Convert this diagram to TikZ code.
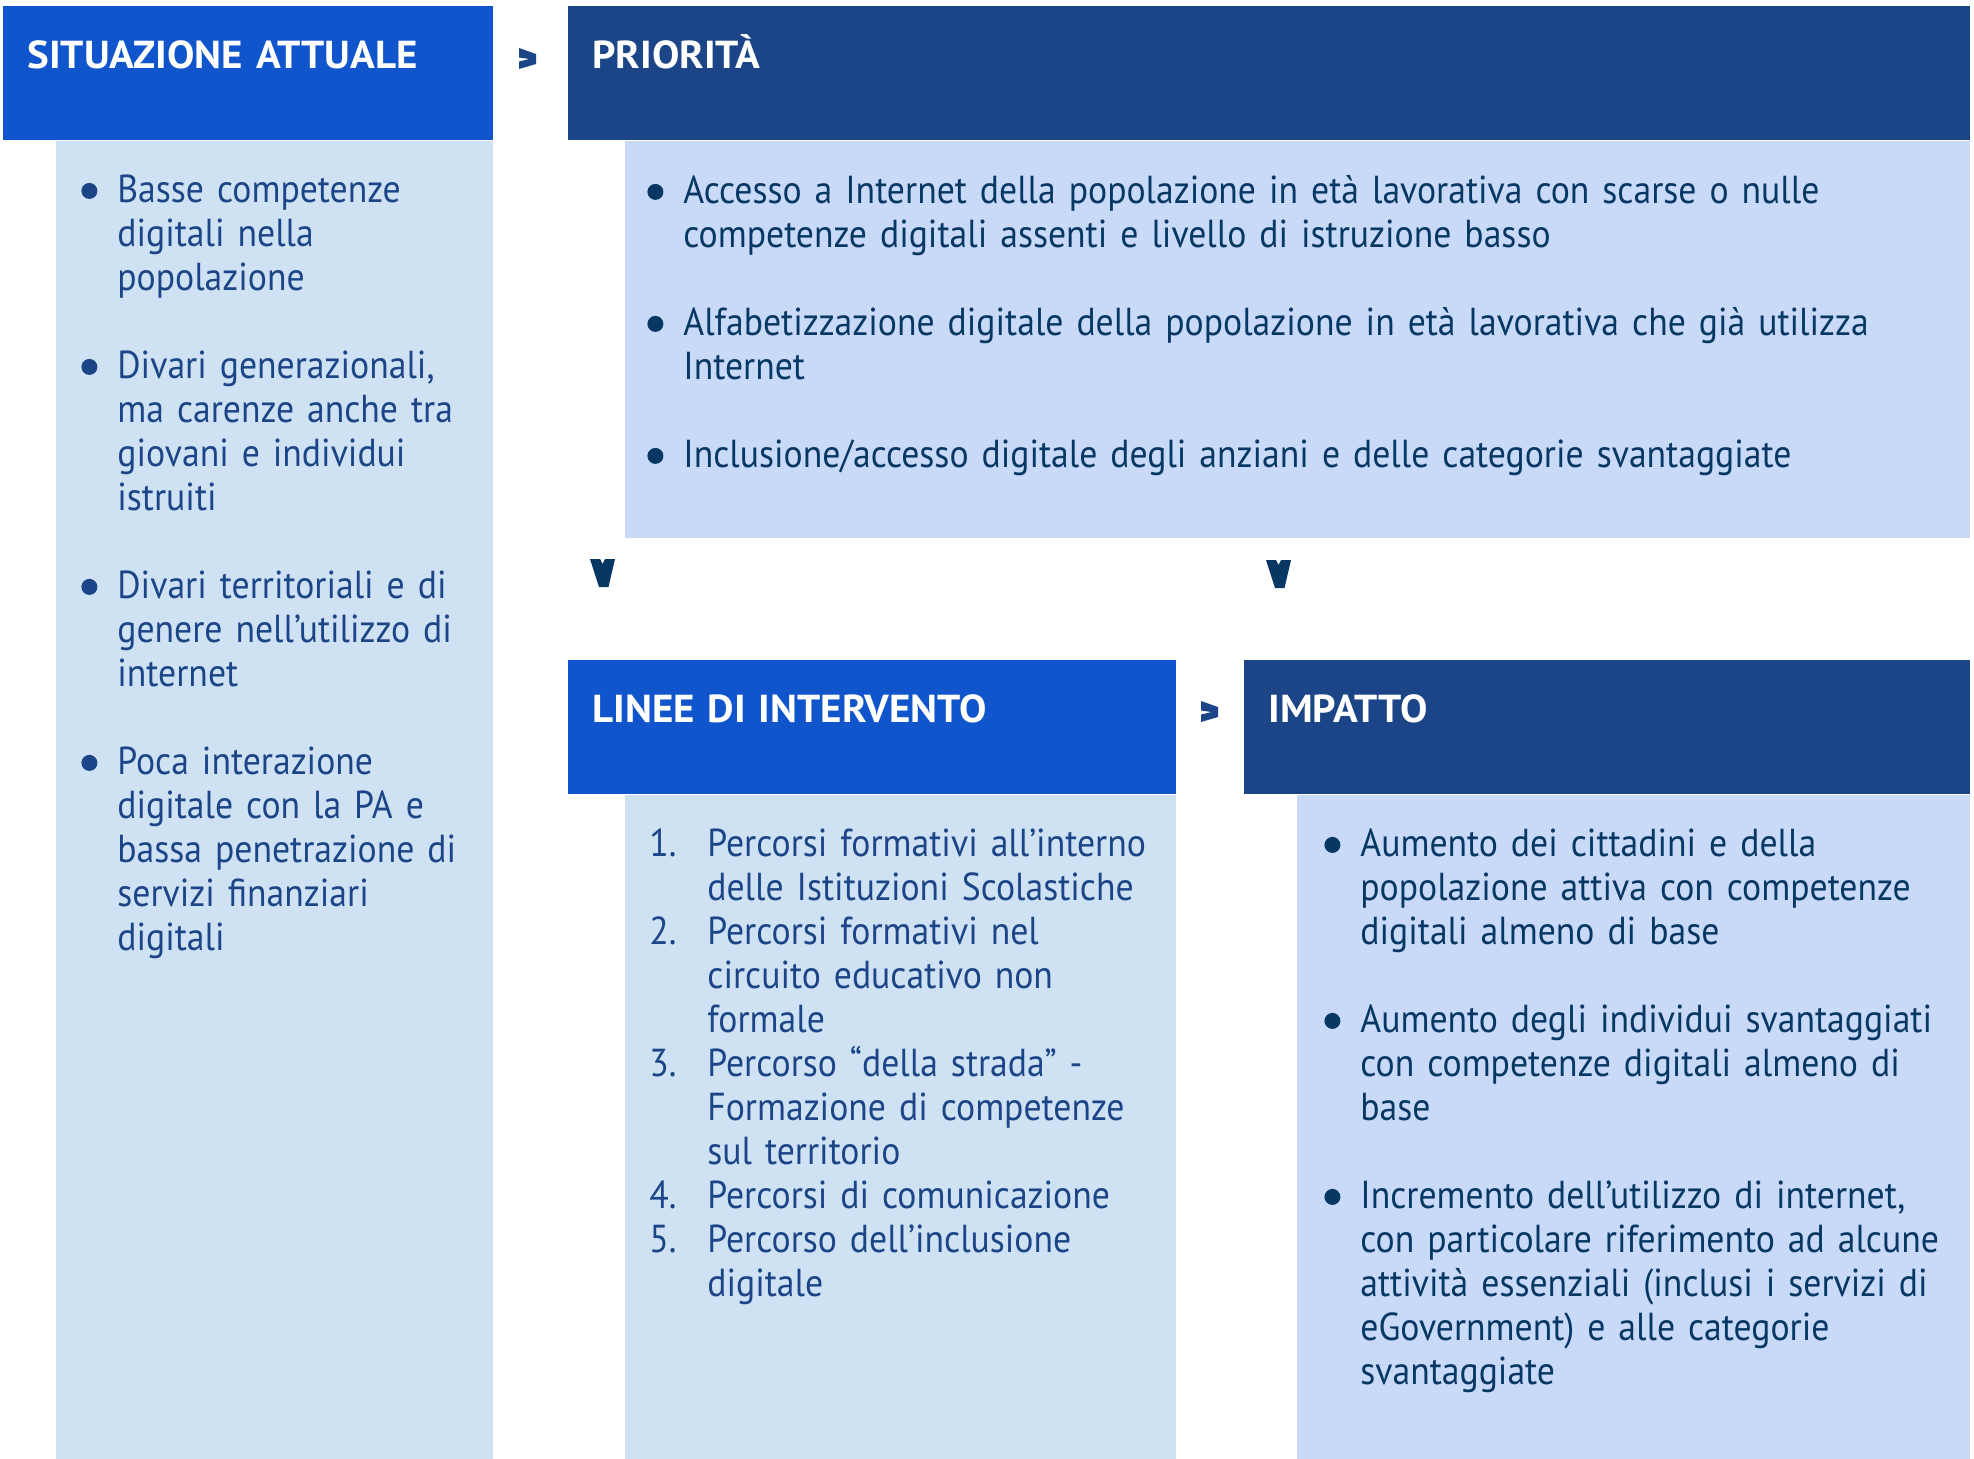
\documentclass[tikz,border=0pt]{standalone}
\usepackage{fontspec}
\setmainfont[FakeStretch=0.915]{PT Sans}
\newfontfamily\titolofont[FakeStretch=1.05]{PT Sans}
\usepackage{xcolor}
\usepackage{graphicx}

\definecolor{bluvivo}{HTML}{1155CC}
\definecolor{bluscuro}{HTML}{1C4587}
\definecolor{navy}{HTML}{073763}
\definecolor{azzurro}{HTML}{CFE2F3}
\definecolor{celeste}{HTML}{C9DAF8}

\setlength{\parskip}{0pt}
\newlength{\rientro}
\setlength{\rientro}{18pt}
% bullet and list items
\newcommand{\pallino}{\tikz[baseline=-5.75pt]\fill (0,0) circle (4pt);}
\newcommand{\voce}[1]{\par\hangindent=\rientro\hangafter=1\noindent\makebox[\rientro][l]{\pallino}#1\par}
\newcommand{\numero}[2]{\par\hangindent=29pt\hangafter=1\noindent\makebox[29pt][l]{#1}#2\par}
\newcommand{\vuota}{\vskip22pt}

\tikzset{
frecciadx/.pic={\fill[bluscuro] (0,0) -- (17,6) -- (17,16) -- (0,21) -- (0,13.5) -- (10.5,11) -- (0,9.5) -- cycle;},
frecciagiu/.pic={\fill[navy] (0,0) -- (10,0) -- (12.5,5) -- (15,0) -- (25,0) -- (18.5,28) -- (9,28) -- cycle;}
}

\begin{document}
\begin{tikzpicture}
[x=0.5pt, y=-0.5pt,
% The titolo style is used for the coloured headers
titolo/.style={anchor=north west, text=white, inner xsep=12pt, inner ysep=0pt, text height=31pt, text depth=36pt, font=\fontsize{19.5}{22}\titolofont\bfseries},
% The corpo style is used for the light boxes below the headers
corpo/.style={anchor=north east, inner sep=0pt},
% The testo style is used for the lists
testo/.style={anchor=north west, inner sep=0pt, font=\fontsize{19.5}{22}\selectfont}
]
\useasboundingbox (0,0) rectangle (1974,1458);

% Draw headers
\node[titolo, fill=bluvivo, text width=221pt] (sit-head) at (3,6) {SITUAZIONE ATTUALE};
\node[titolo, fill=bluscuro, text width=677pt] (pri-head) at (568,6) {PRIORITÀ};
\node[titolo, fill=bluvivo, text width=280pt] (lin-head) at (568,660) {LINEE DI INTERVENTO};
\node[titolo, fill=bluscuro, text width=339pt] (imp-head) at (1244,660) {IMPATTO};

% Draw boxes
\node[corpo, fill=azzurro, minimum width=218.5pt, minimum height=659pt] (sit-body) at (sit-head.south east) {};
\node[corpo, fill=celeste, minimum width=672.5pt, minimum height=198.5pt] (pri-body) at (pri-head.south east) {};
\node[corpo, fill=azzurro, minimum width=275.5pt, minimum height=332pt] (lin-body) at (lin-head.south east) {};
\node[corpo, fill=celeste, minimum width=336.5pt, minimum height=332pt] (imp-body) at (imp-head.south east) {};

% Draw lists
\node[testo, text=bluscuro, text width=300pt] (sit-text) at (81,158) {%
\voce{Basse competenze\newline digitali nella\newline popolazione}\vuota
\voce{Divari generazionali,\newline ma carenze anche tra\newline giovani e individui\newline istruiti}\vuota
\voce{Divari territoriali e di\newline genere nell’utilizzo di\newline internet}\vuota
\voce{Poca interazione\newline digitale con la PA e\newline bassa penetrazione di\newline servizi finanziari\newline digitali}};

\node[testo, text=navy, text width=700pt] (pri-text) at (647,159) {%
\voce{Accesso a Internet della popolazione in età lavorativa con scarse o nulle\newline competenze digitali assenti e livello di istruzione basso}\vuota
\voce{Alfabetizzazione digitale della popolazione in età lavorativa che già utilizza\newline Internet}\vuota
\voce{Inclusione/accesso digitale degli anziani e delle categorie svantaggiate}};

\node[testo, text=bluscuro, text width=400pt] (lin-text) at (649,812) {%
\numero{1.}{Percorsi formativi all’interno\newline delle Istituzioni Scolastiche}
\numero{2.}{Percorsi formativi nel\newline circuito educativo non\newline formale}
\numero{3.}{Percorso “della strada” -\newline Formazione di competenze\newline sul territorio}
\numero{4.}{Percorsi di comunicazione}
\numero{5.}{Percorso dell’inclusione\newline digitale}};

\node[testo, text=navy, text width=400pt] (imp-text) at (1324,812) {%
\voce{Aumento dei cittadini e della\newline popolazione attiva con competenze\newline digitali almeno di base}\vuota
\voce{Aumento degli individui svantaggiati\newline con competenze digitali almeno di\newline base}\vuota
\voce{Incremento dell’utilizzo di internet,\newline con particolare riferimento ad alcune\newline attività essenziali (inclusi i servizi di\newline eGovernment) e alle categorie\newline svantaggiate}};

% Draw arrows
\pic at (519,48) {frecciadx};
\pic at (1201,701) {frecciadx};
\pic at (590,559) {frecciagiu};
\pic at (1266,560) {frecciagiu};
\end{tikzpicture}
\end{document}
